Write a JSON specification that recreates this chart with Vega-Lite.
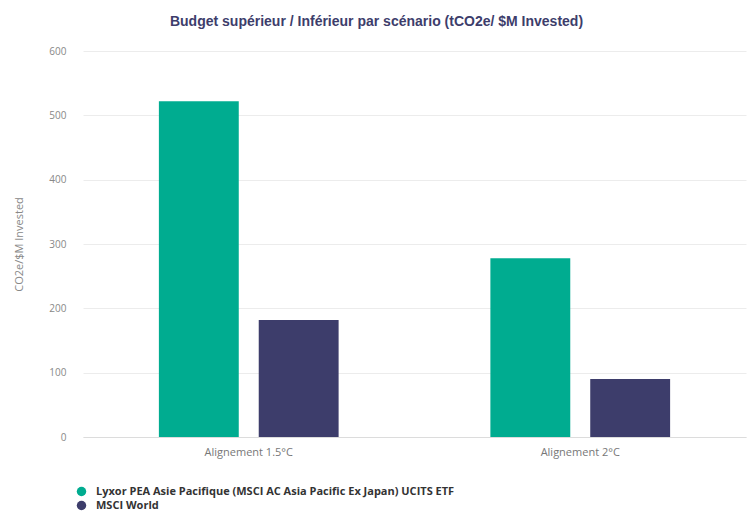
{
  "$schema": "https://vega.github.io/schema/vega-lite/v6.json",
  "width": 663,
  "height": 386,
  "autosize": {"type": "none"},
  "padding": {"left": 83, "top": 51, "right": 2, "bottom": 87},
  "background": "white",
  "title": {
    "text": "Budget supérieur / Inférieur par scénario (tCO2e/ $M Invested)",
    "font": "Liberation Sans",
    "fontSize": 14,
    "fontWeight": "bold",
    "color": "#3D3D6B",
    "anchor": "middle",
    "dx": -38,
    "offset": 17
  },
  "data": {
    "values": [
      {"scenario": "Alignement 1.5°C", "series": "Lyxor PEA Asie Pacifique (MSCI AC Asia Pacific Ex Japan) UCITS ETF", "value": 522},
      {"scenario": "Alignement 1.5°C", "series": "MSCI World", "value": 182},
      {"scenario": "Alignement 2°C", "series": "Lyxor PEA Asie Pacifique (MSCI AC Asia Pacific Ex Japan) UCITS ETF", "value": 278},
      {"scenario": "Alignement 2°C", "series": "MSCI World", "value": 90}
    ]
  },
  "mark": {"type": "bar"},
  "encoding": {
    "x": {
      "field": "scenario",
      "type": "nominal",
      "sort": null,
      "scale": {"paddingInner": 0, "paddingOuter": 0},
      "axis": {
        "title": null,
        "labelAngle": 0,
        "labelFont": "Open Sans",
        "labelFontSize": 11,
        "labelColor": "#777777",
        "labelPadding": 9,
        "ticks": false,
        "domainColor": "#dcdcdc",
        "grid": false
      }
    },
    "xOffset": {
      "field": "series",
      "type": "nominal",
      "sort": null,
      "scale": {"paddingInner": 0.2, "paddingOuter": 0.76}
    },
    "y": {
      "field": "value",
      "type": "quantitative",
      "scale": {"domain": [0, 600], "nice": false},
      "axis": {
        "title": "CO2e/$M Invested",
        "titleFont": "Open Sans",
        "titleFontSize": 11,
        "titleFontWeight": "normal",
        "titleColor": "#888888",
        "titleX": -59,
        "values": [0, 100, 200, 300, 400, 500, 600],
        "labelFont": "Open Sans",
        "labelFontSize": 10,
        "labelColor": "#888888",
        "labelPadding": 17,
        "ticks": false,
        "domain": false,
        "gridColor": "#ececec"
      }
    },
    "color": {
      "field": "series",
      "type": "nominal",
      "sort": null,
      "scale": {"range": ["#00AC90", "#3D3D6B"]},
      "legend": {
        "title": null,
        "orient": "none",
        "legendX": -7,
        "legendY": 435,
        "direction": "vertical",
        "symbolType": "circle",
        "symbolSize": 90,
        "symbolStrokeWidth": 0,
        "labelOffset": 9,
        "labelFont": "Open Sans",
        "labelFontSize": 11,
        "labelFontWeight": "bold",
        "labelColor": "#333333",
        "labelLimit": 600,
        "rowPadding": 2
      }
    }
  },
  "config": {"view": {"stroke": null}}
}
